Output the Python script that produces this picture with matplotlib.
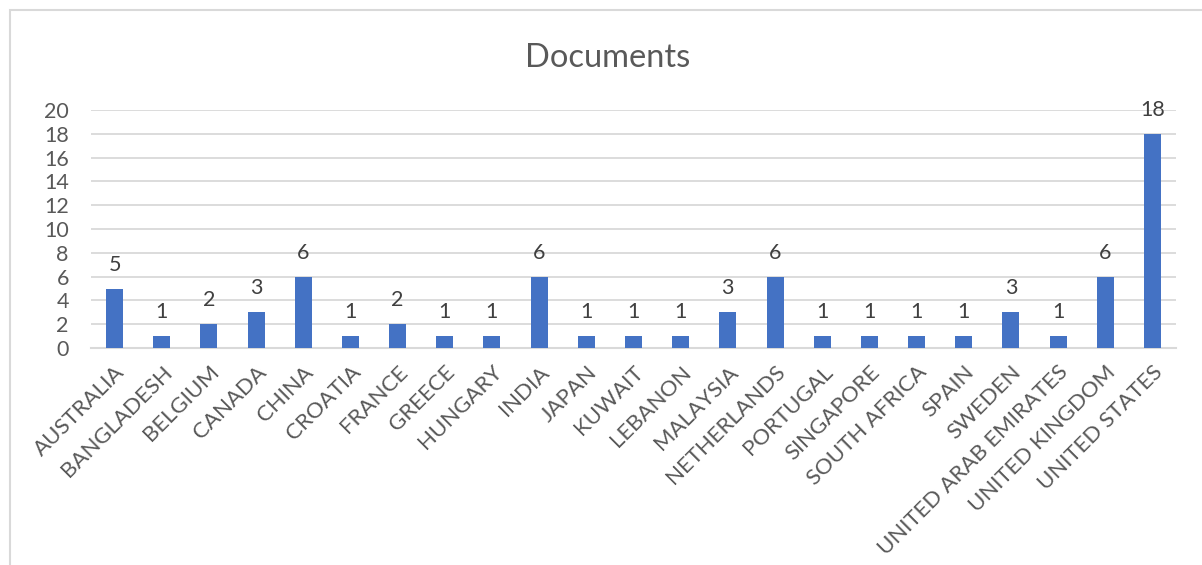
import matplotlib.pyplot as plt
from matplotlib.patches import Rectangle

countries = ["AUSTRALIA", "BANGLADESH", "BELGIUM", "CANADA", "CHINA", "CROATIA",
             "FRANCE", "GREECE", "HUNGARY", "INDIA", "JAPAN", "KUWAIT", "LEBANON",
             "MALAYSIA", "NETHERLANDS", "PORTUGAL", "SINGAPORE", "SOUTH AFRICA",
             "SPAIN", "SWEDEN", "UNITED ARAB EMIRATES", "UNITED KINGDOM",
             "UNITED STATES"]
documents = [5, 1, 2, 3, 6, 1, 2, 1, 1, 6, 1, 1, 1, 3, 6, 1, 1, 1, 1, 3, 1, 6, 18]
y_ticks = [0, 2, 4, 6, 8, 10, 12, 14, 16, 18, 20]

plt.rcParams['font.family'] = ['Lato', 'DejaVu Sans']
txt = '#595959'
grid = '#d9d9d9'

fig = plt.figure(figsize=(12.02, 5.65), dpi=100)
ax = fig.add_axes([91/1202, 1-348/565, (1176-91)/1202, (348-110)/565])

x = range(len(countries))
bars = ax.bar(x, documents, width=0.36, color='#4472C4', zorder=3)
for b, v in zip(bars, documents):
    ax.annotate(str(v), (b.get_x() + b.get_width()/2, v), xytext=(0, 10),
                textcoords='offset points', ha='center', va='bottom',
                fontsize=15.5, color='#404040')

ax.set_xlim(-0.5, len(countries) - 0.5)
ax.set_ylim(0, 20)
ax.set_yticks(y_ticks)
ax.yaxis.grid(True, color=grid, lw=1.3, zorder=0)
for s in ['top', 'right', 'left']:
    ax.spines[s].set_visible(False)
ax.spines['bottom'].set_color(grid)
ax.spines['bottom'].set_linewidth(1.5)
ax.tick_params(axis='both', length=0, labelsize=15.5, labelcolor=txt)
ax.tick_params(axis='y', pad=16)
ax.set_xticks(list(x))
ax.set_xticklabels(countries, rotation=45, ha='right', rotation_mode='anchor',
                   fontsize=16)
ax.tick_params(axis='x', pad=10)

fig.text(608/1202, 1-58/565, 'Documents', ha='center', va='center',
         fontsize=23.5, color=txt)

fig.patches.append(Rectangle((10/1202, -0.1), 1.2, 1.1 - 10/565, fill=False,
                             edgecolor=grid, lw=1.5, transform=fig.transFigure))

fig.savefig('out.png', dpi=100)
